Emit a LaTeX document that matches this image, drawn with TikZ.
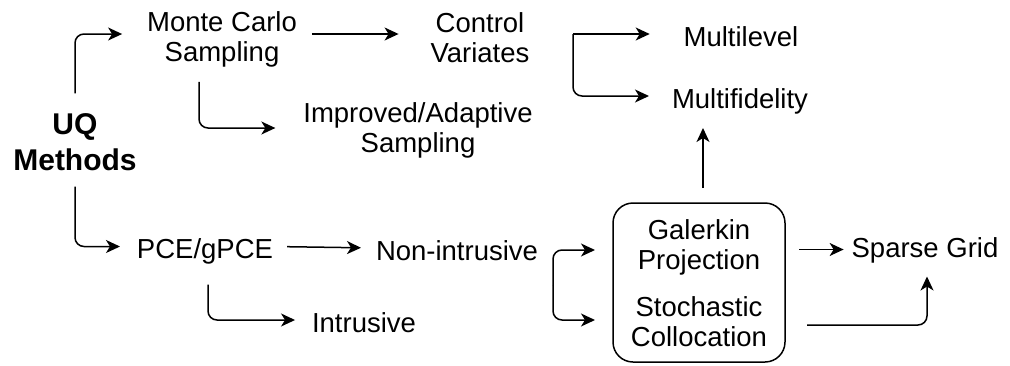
\documentclass[tikz,border=0pt]{standalone}
\usepackage{fontspec}
\setmainfont{Liberation Sans}
\usetikzlibrary{arrows.meta}

\begin{document}
\begin{tikzpicture}[x=1pt, y=-1pt,
  every node/.style={inner sep=0pt, outer sep=0pt},
  lbl/.style={font=\fontsize{27.5}{30}\selectfont, align=center},
  oneline/.style={lbl, anchor=base, text height=24pt, text depth=0pt},
  title/.style={font=\bfseries\fontsize{30}{36}\selectfont, align=center},
  methodbox/.style={draw, line width=1.5pt, rounded corners=20pt,
    minimum width=172pt, minimum height=159pt},
  arr/.style={line width=1.5pt, rounded corners=9pt,
    -{Stealth[length=14pt, width=13pt, inset=4pt]}},
]
\useasboundingbox (0,0) rectangle (1010,365);

% root
\node[title] (uq) at (75,142) {UQ\\Methods};

% sampling branch
\node[lbl] (mc)  at (222,39)  {Monte Carlo\\Sampling};
\node[lbl] (cv)  at (480,38)  {Control\\Variates};
\node[lbl] (ias) at (418,130) {Improved/Adaptive\\Sampling};
\node[oneline] (ml) at (741,46)  {Multilevel};
\node[oneline] (mf) at (740,108) {Multifidelity};

% polynomial chaos branch
\node[oneline] (pce)  at (205,258.5) {PCE/gPCE};
\node[oneline] (ni)   at (457,260)   {Non-intrusive};
\node[oneline] (intr) at (364,332)   {Intrusive};

% Galerkin / collocation block
\node[methodbox] (box) at (699,282.5) {};
\node[lbl] (gp) at (699,247) {Galerkin\\Projection};
\node[lbl] (sc) at (699,322) {Stochastic\\Collocation};
\node[oneline] (sg) at (925,257.5) {Sparse Grid};

% junction points of the two brackets
\coordinate (cvj) at (573,34);
\coordinate (gj)  at (553,285);

% connectors
\draw[arr, shorten <=20pt, shorten >=25pt] (uq.north) |- ([yshift=5pt]mc.west);
\draw[arr, shorten <=16pt, shorten >=17pt] (uq.south) |- (pce.west);

\draw[arr, shorten <=15pt, shorten >=32pt] ([yshift=5pt]mc.east) -- ([yshift=5pt]mc.east -| cv.west);
\draw[arr, shorten <=15pt, shorten >=28pt] ([xshift=-23pt]mc.south) |- ([yshift=2pt]ias.west);

\draw[arr, shorten >=34pt] (cvj) -- (cvj -| ml.west);
\draw[arr, shorten >=23pt] (cvj) |- (mf.west);

\draw[arr, shorten <=14pt, shorten >=15pt] (pce.east) -- (ni.west);
\draw[arr, shorten <=26pt, shorten >=17pt] ([xshift=3pt]pce.south) |- (intr.west);

\draw[arr, shorten >=18pt] (gj) |- ([yshift=-3pt]gp.west -| box.west);
\draw[arr, shorten >=18pt] (gj) |- ([yshift=2pt]sc.west -| box.west);

\draw[arr, shorten <=15pt, shorten >=20pt] ([xshift=4pt]box.north) -- ([xshift=4pt]box.north |- mf.south);

\draw[arr, shorten <=14pt, shorten >=8pt] ([yshift=-4pt]sg.west -| box.east) -- ([yshift=-4pt]sg.west);
\draw[arr, shorten <=22pt, shorten >=19pt] ([yshift=-3pt]sc.east -| box.east) -| ([xshift=2pt]sg.south);
\end{tikzpicture}
\end{document}
